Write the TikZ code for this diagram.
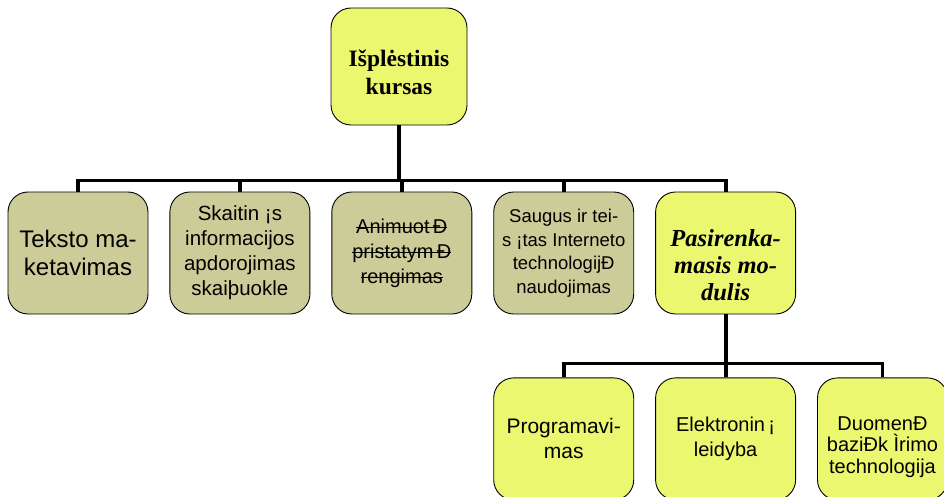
\documentclass[tikz,border=0pt]{standalone}
\usepackage{fontspec}
\setmainfont{Liberation Serif}
\newfontfamily\arialfont{Liberation Sans}
\usetikzlibrary{positioning}
\definecolor{khaki}{RGB}{204,204,153}
\definecolor{lime}{RGB}{236,247,112}

\newlength\strklen
\newcommand\strk[1]{\settowidth\strklen{#1}\rlap{\rule[0.28em]{\strklen}{0.9pt}}#1}
\newcommand\lowr[1]{\rule{0pt}{#1}}

\tikzset{
  modbox/.style={draw, line width=0.9pt, rounded corners=20pt, align=center,
    minimum width=140pt, minimum height=122pt, inner sep=2pt,
    font=\arialfont\fontsize{20}{25}\selectfont},
  coremod/.style={modbox, fill=khaki},
  optmod/.style={modbox, fill=lime},
  link/.style={line width=3.8pt, line join=miter}
}

\begin{document}
\begin{tikzpicture}[node distance=21pt]
\useasboundingbox (0pt,0pt) rectangle (944pt,-497pt);

\node (top) [optmod, minimum width=136pt, minimum height=117pt,
  font=\bfseries\fontsize{23.5}{28}\selectfont] at (399pt,-66.5pt) {\lowr{28pt}Išplėstinis\\kursas};

\node (b1) [coremod, font=\arialfont\fontsize{24}{28}\selectfont] at (78pt,-253pt) {Teksto ma-\\ketavimas};
\node (b2) [coremod, right=of b1, font=\arialfont\fontsize{20.5}{25}\selectfont] {Skaitin ¡s\\informacijos\\apdorojimas\\skaiþuokle};
\node (b3) [coremod, right=of b2] {\strk{Animuot\,Ð}\\\strk{pristatym\,Ð}\\\strk{rengimas}};
\node (b4) [coremod, right=of b3, font=\arialfont\fontsize{18.5}{23.5}\selectfont] {Saugus ir tei-\\s ¡tas Interneto\\technologijÐ\\naudojimas};
\node (b5) [optmod, right=of b4, font=\bfseries\itshape\fontsize{24.5}{27}\selectfont] {\lowr{41pt}Pasirenka-\\masis mo-\\dulis};

\node (c1) [optmod, below=63pt of b4, font=\arialfont\fontsize{21}{25}\selectfont] {Programavi-\\mas};
\node (c2) [optmod, below=63pt of b5] {Elektronin\,¡\\leidyba};
\node (c3) [optmod, right=of c2, minimum width=130pt, font=\arialfont\fontsize{20}{21.5}\selectfont] {\lowr{30pt}DuomenÐ\\baziÐk Ìrimo\\technologija};

\coordinate (hub) at ([yshift=-55pt]top.south);
\draw[link] (top.south) -- (hub);
\foreach \b in {b1,b2,b3,b4,b5}
  \draw[link] (\b.north) |- (hub);

\coordinate (hub2) at ([yshift=-49pt]b5.south);
\draw[link] (b5.south) -- (hub2);
\foreach \c in {c1,c2,c3}
  \draw[link] (\c.north) |- (hub2);
\end{tikzpicture}
\end{document}
